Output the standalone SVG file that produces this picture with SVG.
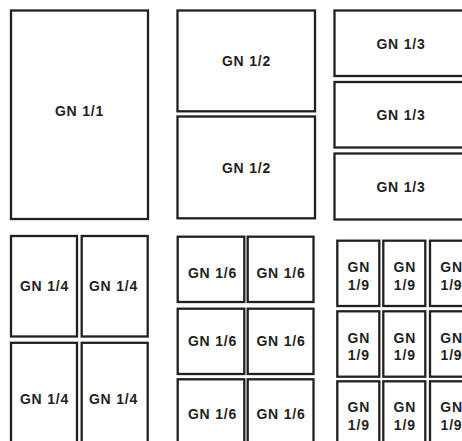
<svg xmlns="http://www.w3.org/2000/svg" width="462" height="441" viewBox="0 0 462 441">
<style>
.b{fill:#fff;stroke:#231f20;stroke-width:2.3}
.t{font-family:"Liberation Sans",Arial,sans-serif;font-weight:bold;font-size:14px;fill:#231f20;text-anchor:middle;letter-spacing:0.8px}
</style>
<rect width="462" height="441" fill="#fff"/>
<g id="gn11"><rect class="b" x="11" y="10.5" width="137" height="208.5"/><text class="t" x="79.5" y="116">GN 1/1</text></g>
<g id="gn12a"><rect class="b" x="177.5" y="10.5" width="137.5" height="100.8"/><text class="t" x="246.5" y="66">GN 1/2</text></g>
<g id="gn12b"><rect class="b" x="177.5" y="116.5" width="137.5" height="101.8"/><text class="t" x="246.5" y="172.5">GN 1/2</text></g>
<g id="gn13a"><rect class="b" x="334.5" y="10.5" width="137" height="65.5"/><text class="t" x="401" y="49">GN 1/3</text></g>
<g id="gn13b"><rect class="b" x="334.5" y="82" width="137" height="65.5"/><text class="t" x="401" y="120">GN 1/3</text></g>
<g id="gn13c"><rect class="b" x="334.5" y="153.5" width="137" height="66"/><text class="t" x="401" y="191.5">GN 1/3</text></g>
<g id="gn14a"><rect class="b" x="11" y="236" width="66" height="100.5"/><text class="t" x="44.5" y="291">GN 1/4</text></g>
<g id="gn14b"><rect class="b" x="81.7" y="236" width="66" height="100.5"/><text class="t" x="113.5" y="291">GN 1/4</text></g>
<g id="gn14c"><rect class="b" x="11" y="342.8" width="66" height="110"/><text class="t" x="44.5" y="404">GN 1/4</text></g>
<g id="gn14d"><rect class="b" x="81.7" y="342.8" width="66" height="110"/><text class="t" x="113.5" y="404">GN 1/4</text></g>
<g id="gn16a"><rect class="b" x="177.7" y="236.7" width="66.6" height="65.3"/><text class="t" x="212.5" y="278">GN 1/6</text></g>
<g id="gn16b"><rect class="b" x="247.7" y="236.7" width="65.8" height="65.3"/><text class="t" x="281" y="278">GN 1/6</text></g>
<g id="gn16c"><rect class="b" x="177.7" y="308.7" width="66.6" height="65.3"/><text class="t" x="212.5" y="346">GN 1/6</text></g>
<g id="gn16d"><rect class="b" x="247.7" y="308.7" width="65.8" height="65.3"/><text class="t" x="281" y="346">GN 1/6</text></g>
<g id="gn16e"><rect class="b" x="177.7" y="379.3" width="66.6" height="70"/><text class="t" x="212.5" y="419">GN 1/6</text></g>
<g id="gn16f"><rect class="b" x="247.7" y="379.3" width="65.8" height="70"/><text class="t" x="281" y="419">GN 1/6</text></g>
<g id="gn19a"><rect class="b" x="337.3" y="240.7" width="42" height="65.3"/><text class="t" x="358.8" y="272.3">GN</text><text class="t" x="358.8" y="289.7">1/9</text></g>
<g id="gn19b"><rect class="b" x="383.3" y="240.7" width="42" height="65.3"/><text class="t" x="404.8" y="272.3">GN</text><text class="t" x="404.8" y="289.7">1/9</text></g>
<g id="gn19c"><rect class="b" x="430" y="240.7" width="42" height="65.3"/><text class="t" x="451.5" y="272.3">GN</text><text class="t" x="451.5" y="289.7">1/9</text></g>
<g id="gn19d"><rect class="b" x="337.3" y="311.3" width="42" height="65.4"/><text class="t" x="358.8" y="343">GN</text><text class="t" x="358.8" y="360.3">1/9</text></g>
<g id="gn19e"><rect class="b" x="383.3" y="311.3" width="42" height="65.4"/><text class="t" x="404.8" y="343">GN</text><text class="t" x="404.8" y="360.3">1/9</text></g>
<g id="gn19f"><rect class="b" x="430" y="311.3" width="42" height="65.4"/><text class="t" x="451.5" y="343">GN</text><text class="t" x="451.5" y="360.3">1/9</text></g>
<g id="gn19g"><rect class="b" x="337.3" y="381.3" width="42" height="70"/><text class="t" x="358.8" y="412.3">GN</text><text class="t" x="358.8" y="429.7">1/9</text></g>
<g id="gn19h"><rect class="b" x="383.3" y="381.3" width="42" height="70"/><text class="t" x="404.8" y="412.3">GN</text><text class="t" x="404.8" y="429.7">1/9</text></g>
<g id="gn19i"><rect class="b" x="430" y="381.3" width="42" height="70"/><text class="t" x="451.5" y="412.3">GN</text><text class="t" x="451.5" y="429.7">1/9</text></g>
<g id="connectors"/>
</svg>
